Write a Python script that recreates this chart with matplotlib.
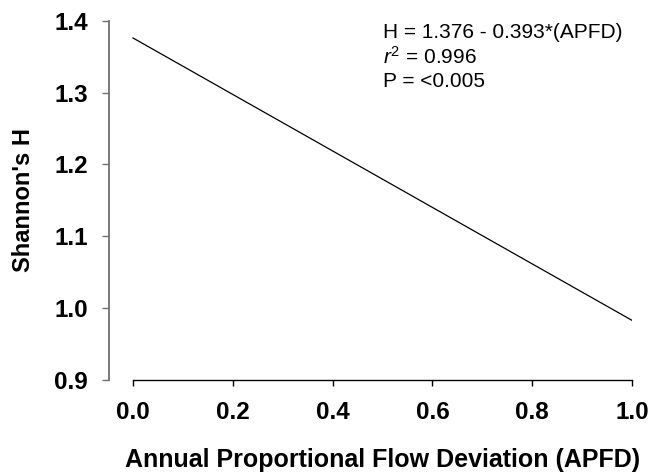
import numpy as np
import matplotlib.pyplot as plt

plt.rcParams['font.family'] = ['Liberation Sans', 'DejaVu Sans']
plt.rcParams['mathtext.fontset'] = 'custom'
plt.rcParams['mathtext.rm'] = 'Liberation Sans'
plt.rcParams['mathtext.it'] = 'Liberation Sans:italic'

# regression line H = 1.376 - 0.393*APFD, drawn between its end points
apfd = [0.0, 1.0]
shannon_h = [1.376, 0.983]

x_ticks = [0.0, 0.2, 0.4, 0.6, 0.8, 1.0]
y_ticks = [0.9, 1.0, 1.1, 1.2, 1.3, 1.4]

fig = plt.figure(figsize=(6.5, 4.75), dpi=100)
ax = fig.add_axes([109 / 650, 95 / 475, (632 - 109) / 650, (380 - 20.7) / 475])

ax.plot(apfd, shannon_h, color='black', linewidth=0.9)

ax.set_xlim(-0.048, 1.0)
ax.set_ylim(0.9, 1.4)
ax.set_xticks(x_ticks)
ax.set_yticks(y_ticks)
ax.set_xticklabels([f'{v:.1f}' for v in x_ticks], fontsize=17.5, fontweight='bold')
ax.set_yticklabels([f'{v:.1f}' for v in y_ticks], fontsize=17.5, fontweight='bold')

ax.spines['top'].set_visible(False)
ax.spines['right'].set_visible(False)
ax.spines['bottom'].set_bounds(0, 1)
ax.spines['left'].set_color('#707070')
ax.spines['left'].set_linewidth(1.3)
ax.spines['bottom'].set_linewidth(1.0)

ax.tick_params(axis='y', direction='out', length=5, width=1.0, color='#707070', pad=10)
ax.tick_params(axis='x', direction='out', length=4, width=1.0, pad=11)

ax.set_xlabel('Annual Proportional Flow Deviation (APFD)', fontsize=18,
              fontweight='bold', va='center')
ax.xaxis.set_label_coords(0.523, -0.223)
ax.set_ylabel("Shannon's H", fontsize=17, fontweight='bold', labelpad=14)

ax.text(0.501, 1.397, 'H = 1.376 - 0.393*(APFD)\n$\\mathit{r}^2$ = 0.996\nP = <0.005',
        fontsize=15, va='top', ha='left', linespacing=1.25)

fig.savefig('out.png', dpi=100)
